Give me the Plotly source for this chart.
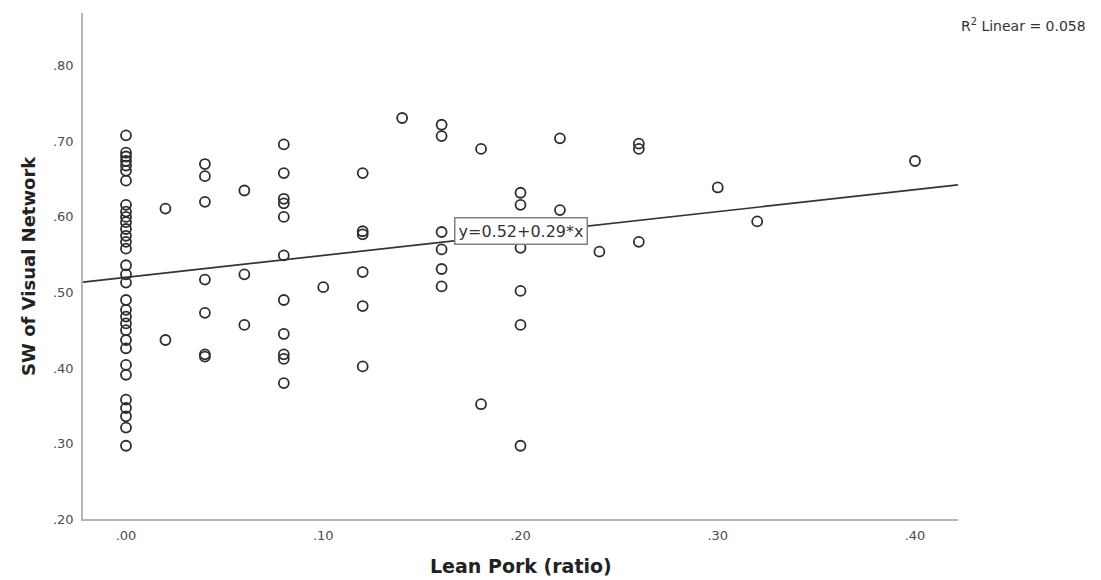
import plotly.graph_objects as go

# ---- data ----
x_levels = [0.00, 0.02, 0.04, 0.06, 0.08, 0.10, 0.12, 0.14, 0.16, 0.18, 0.20, 0.22, 0.24, 0.26, 0.30, 0.32, 0.40]
sw_by_level = [
    [0.708, 0.685, 0.680, 0.674, 0.668, 0.661, 0.648, 0.616, 0.607, 0.600, 0.593, 0.584, 0.575,
     0.567, 0.558, 0.536, 0.524, 0.513, 0.490, 0.477, 0.468, 0.459, 0.450, 0.437, 0.426, 0.404,
     0.391, 0.358, 0.347, 0.336, 0.321, 0.297],
    [0.611, 0.437],
    [0.670, 0.654, 0.620, 0.517, 0.473, 0.418, 0.415],
    [0.635, 0.524, 0.457],
    [0.696, 0.658, 0.624, 0.618, 0.600, 0.549, 0.490, 0.445, 0.418, 0.412, 0.380],
    [0.507],
    [0.658, 0.581, 0.577, 0.527, 0.482, 0.402],
    [0.731],
    [0.722, 0.707, 0.580, 0.557, 0.531, 0.508],
    [0.690, 0.352],
    [0.632, 0.616, 0.559, 0.502, 0.457, 0.297],
    [0.704, 0.609],
    [0.554],
    [0.697, 0.690, 0.567],
    [0.639],
    [0.594],
    [0.674],
]
reg_intercept = 0.52
reg_slope = 0.29
r_squared = 0.058

x_ticks = [0.0, 0.1, 0.2, 0.3, 0.4]
x_ticktext = ['.00', '.10', '.20', '.30', '.40']
y_ticks = [0.2, 0.3, 0.4, 0.5, 0.6, 0.7, 0.8]
y_ticktext = ['.20', '.30', '.40', '.50', '.60', '.70', '.80']

x_range = [-0.0218, 0.4218]
y_range = [0.2, 0.870]

# ---- build point lists ----
lean_pork = []
sw_visual = []
for xv, ys in zip(x_levels, sw_by_level):
    for yv in ys:
        lean_pork.append(xv)
        sw_visual.append(yv)

fig = go.Figure()

# regression line across the full x axis
line_x = x_range
line_y = [reg_intercept + reg_slope * v for v in line_x]
fig.add_trace(go.Scatter(
    x=line_x, y=line_y, mode='lines',
    line=dict(color='#333333', width=1.7),
    hoverinfo='skip', showlegend=False,
))

fig.add_trace(go.Scatter(
    x=lean_pork, y=sw_visual, mode='markers',
    marker=dict(symbol='circle-open', size=10, color='#2e2e2e', line=dict(width=1.8, color='#2e2e2e')),
    showlegend=False,
))

tick_font = dict(family='DejaVu Sans', size=13, color='#4d4d4d')
title_font = dict(family='DejaVu Sans', size=18, color='#222222')

fig.update_layout(
    width=1101, height=580, autosize=False,
    margin=dict(l=83, r=143, t=13, b=61),
    paper_bgcolor='white', plot_bgcolor='white',
    xaxis=dict(
        range=x_range, tickvals=x_ticks, ticktext=x_ticktext,
        showline=True, linecolor='#b5b5b5', linewidth=1.5,
        showgrid=False, zeroline=False, ticks='', tickfont=tick_font,
        ticklabelstandoff=4,
    ),
    yaxis=dict(
        range=y_range, tickvals=y_ticks, ticktext=y_ticktext,
        showline=True, linecolor='#b5b5b5', linewidth=1.5,
        showgrid=False, zeroline=False, ticks='', tickfont=tick_font,
        ticklabelstandoff=5,
    ),
    annotations=[
        dict(x=0.5006, y=-0.093, xref='paper', yref='paper',
             text='<b>Lean Pork (ratio)</b>', showarrow=False,
             font=dict(family='DejaVu Sans', size=19, color='#222222'),
             xanchor='center', yanchor='middle'),
        dict(x=-0.063, y=0.50, xref='paper', yref='paper',
             text='<b>SW of Visual Network</b>', showarrow=False, textangle=-90,
             font=title_font, xanchor='center', yanchor='middle'),
        dict(x=1.1486, y=0.976, xref='paper', yref='paper',
             text='R<sup>2</sup> Linear = %.3f' % r_squared, showarrow=False,
             font=dict(family='DejaVu Sans', size=14, color='#333333'),
             xanchor='right', yanchor='middle'),
        dict(x=0.20, y=0.581, xref='x', yref='y',
             text='y=%.2f+%.2f*x' % (reg_intercept, reg_slope), showarrow=False,
             font=dict(family='DejaVu Sans', size=16, color='#333333'),
             bgcolor='white', bordercolor='#808080', borderwidth=1.5, borderpad=3,
             xanchor='center', yanchor='middle'),
    ],
)

fig.write_html('out.html', config={'displayModeBar': False},
               post_script="document.body.style.margin='0';document.body.style.overflow='hidden';")
